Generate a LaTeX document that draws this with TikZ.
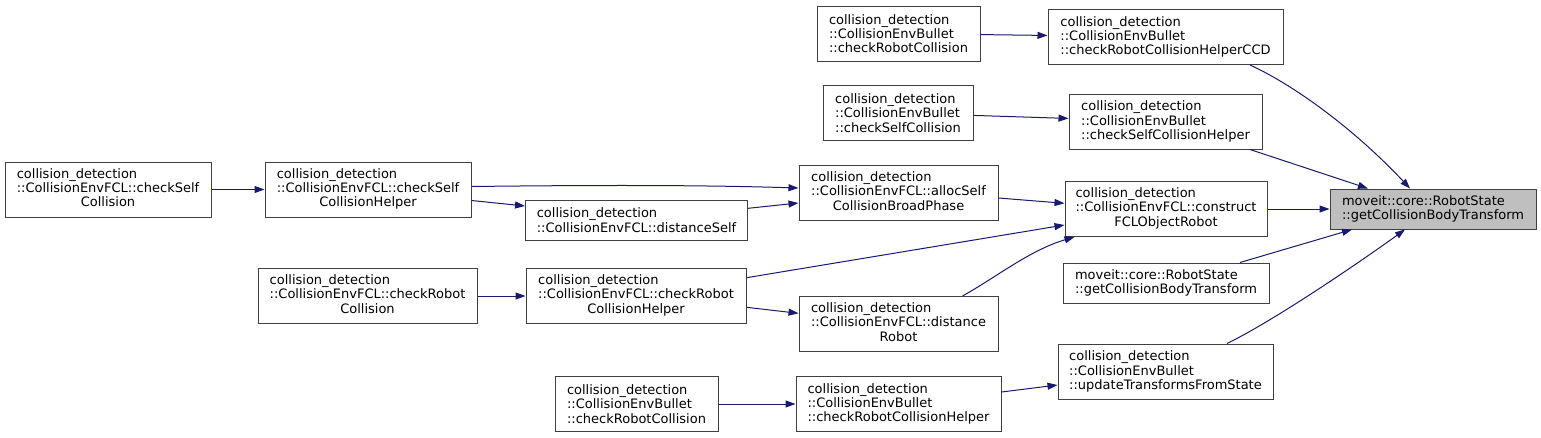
\documentclass[tikz,border=0pt]{standalone}
\usepackage{fontspec}
\setmainfont{DejaVu Sans}
\usetikzlibrary{arrows.meta}

\definecolor{edgeblue}{HTML}{191970}
\definecolor{boxgrey}{HTML}{404040}
\definecolor{hitgrey}{HTML}{BFBFBF}

% FCL labels: two left lines, last line centred
\newcommand{\fcl}[2]{\begin{tabular}{@{}l@{}}collision\_detection\\::CollisionEnvFCL::#1\\\multicolumn{1}{@{}c@{}}{#2}\end{tabular}}

\begin{document}
\begin{tikzpicture}[x=1pt,y=-1pt,>={Triangle[length=10pt,width=7pt]},
  every node/.style={font=\fontsize{13}{14.3}\selectfont},
  fn/.style={draw=boxgrey,line width=1pt,align=left,minimum height=55pt,inner sep=0pt},
  fn2/.style={fn,minimum height=40pt},
  call/.style={->,color=edgeblue,line width=1pt}]
\useasboundingbox (0,0) rectangle (1541,437);

\node[fn,minimum width=163pt] (brc) at (898.5,33.5) {collision\_detection\\::CollisionEnvBullet\\::checkRobotCollision};
\node[fn,minimum width=235pt] (brcccd) at (1165.5,37) {collision\_detection\\::CollisionEnvBullet\\::checkRobotCollisionHelperCCD};
\node[fn,minimum width=150pt] (bsc) at (898,113) {collision\_detection\\::CollisionEnvBullet\\::checkSelfCollision};
\node[fn,minimum width=193pt] (bsch) at (1165.5,121.5) {collision\_detection\\::CollisionEnvBullet\\::checkSelfCollisionHelper};
\node[fn,minimum width=206pt] (fsc) at (108,189.5) {\fcl{checkSelf}{Collision}};
\node[fn,minimum width=206pt] (fsch) at (368,189.5) {\fcl{checkSelf}{CollisionHelper}};
\node[fn,minimum width=199pt] (alloc) at (898.5,193) {\fcl{allocSelf}{CollisionBroadPhase}};
\node[fn2,minimum width=222pt] (dself) at (636.5,220) {collision\_detection\\::CollisionEnvFCL::distanceSelf};
\node[fn,minimum width=202pt] (build) at (1166,209) {\fcl{construct}{FCLObjectRobot}};
\node[fn2,minimum width=206pt,fill=hitgrey] (gcbt) at (1433,209) {moveit::core::RobotState\\::getCollisionBodyTransform};
\node[fn2,minimum width=206pt] (gcbt2) at (1166,283) {moveit::core::RobotState\\::getCollisionBodyTransform};
\node[fn,minimum width=219pt] (frc) at (367.5,296) {\fcl{checkRobot}{Collision}};
\node[fn,minimum width=220pt] (frch) at (636,296) {\fcl{checkRobot}{CollisionHelper}};
\node[fn,minimum width=199pt] (drob) at (898.5,324) {\fcl{distance}{Robot}};
\node[fn,minimum width=215pt] (upd) at (1165.5,371.5) {collision\_detection\\::CollisionEnvBullet\\::updateTransformsFromState};
\node[fn,minimum width=163pt] (brc2) at (636.5,404) {collision\_detection\\::CollisionEnvBullet\\::checkRobotCollision};
\node[fn,minimum width=205pt] (brch) at (898.5,404) {collision\_detection\\::CollisionEnvBullet\\::checkRobotCollisionHelper};

\draw[call] (brc) -- (brcccd);
\draw[call] (bsc) -- (bsch);
\draw[call] (fsc) -- (fsch);
\draw[call] ([yshift=3pt]fsch.east) .. controls (600,185) and (700,185) .. ([yshift=5pt]alloc.west);
\draw[call] ([yshift=-11pt]fsch.east) -- ([yshift=14pt]dself.west);
\draw[call] ([yshift=11.7pt]dself.east) -- ([yshift=-10pt]alloc.west);
\draw[call] ([yshift=-5pt]alloc.east) -- ([yshift=5.7pt]build.west);
\draw[call] ([yshift=18.3pt]frch.east) -- ([yshift=-16pt]build.west);
\draw[call] ([xshift=64pt]drob.north) .. controls (995,278) and (1030,250) .. ([xshift=10pt]build.south west);
\draw[call] (frc) -- (frch);
\draw[call] ([yshift=-11.3pt]frch.east) -- ([yshift=10.7pt]drob.west);
\draw[call] (brc2) -- (brch);
\draw[call] ([yshift=12pt]brch.east) -- ([yshift=-13.5pt]upd.west);
\draw[call] ([xshift=84.5pt]brcccd.south) .. controls (1300,88) and (1360,135) .. ([xshift=-23pt]gcbt.north);
\draw[call] ([xshift=84.5pt]bsch.south) -- ([xshift=-65pt]gcbt.north);
\draw[call] (build) -- (gcbt);
\draw[call] ([xshift=74pt]gcbt2.north) -- ([xshift=-81pt]gcbt.south);
\draw[call] ([xshift=61.5pt]upd.north) .. controls (1275,320) and (1360,262) .. ([xshift=-28pt]gcbt.south);
\end{tikzpicture}
\end{document}
